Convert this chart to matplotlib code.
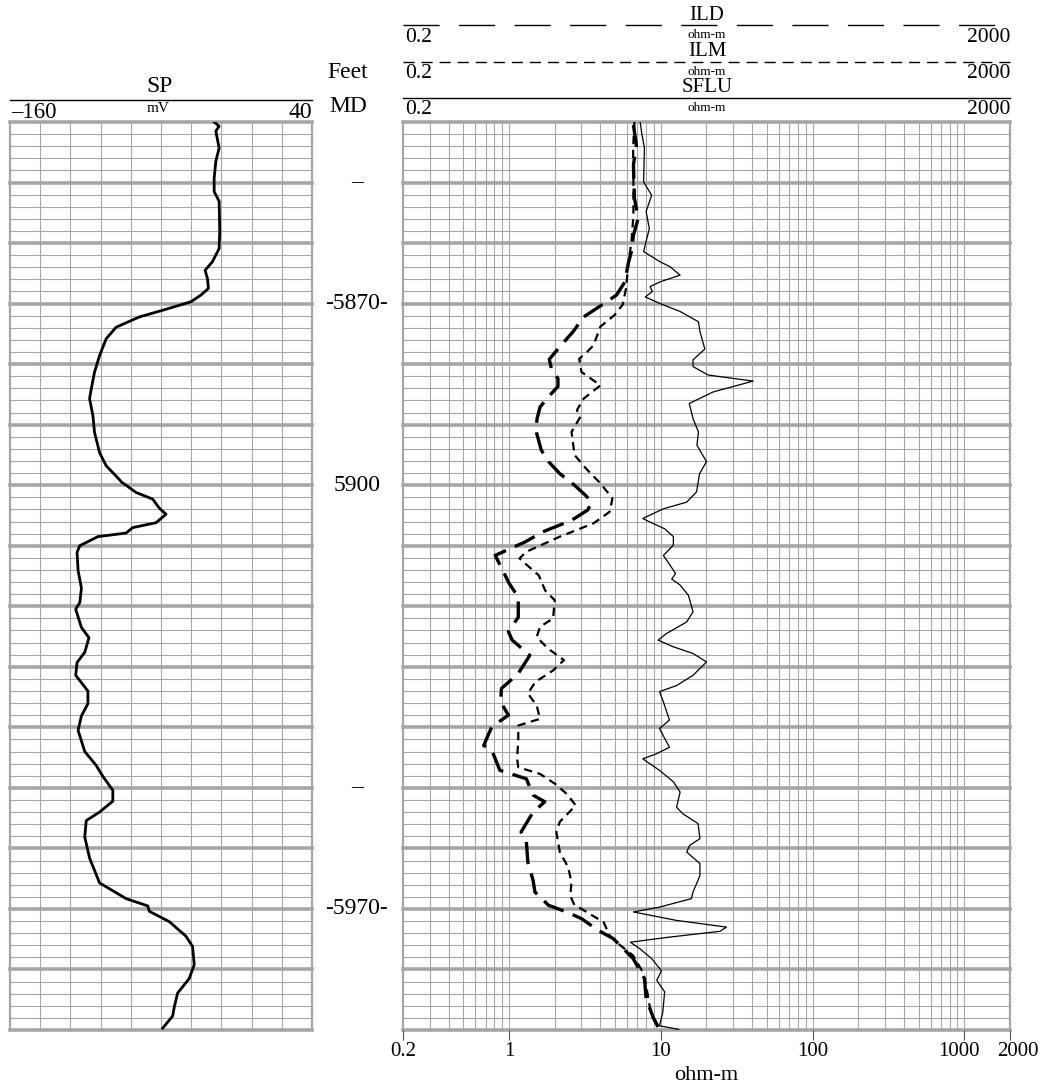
import matplotlib
matplotlib.use("Agg")
import matplotlib.pyplot as plt
from matplotlib.lines import Line2D
from matplotlib.ticker import NullLocator
from matplotlib.transforms import ScaledTranslation

plt.rcParams['font.family'] = ['Liberation Serif', 'DejaVu Serif']
plt.rcParams['lines.scale_dashes'] = False

W, H = 1040, 1089
TOP, BOT = 5840, 5990

# SP curve (depth in ft, mV)
sp_depth = [5840, 5840.7, 5841.5, 5844.3, 5846.5, 5849.3, 5851.5, 5853.1, 5858, 5860.9,
            5863.1, 5864.5, 5865.9, 5867.5, 5868.6, 5869.7, 5871.1, 5872.2, 5873.9, 5875.8,
            5878.6, 5881.3, 5884.1, 5885.7, 5888.5, 5891.3, 5894.6, 5896.8, 5898.5, 5899.5,
            5901.2, 5902.3, 5903.8, 5904.8, 5906.2, 5907, 5907.9, 5908.5, 5910, 5911.1,
            5914.1, 5917, 5919.4, 5920.5, 5923.5, 5925.2, 5927.6, 5929.3, 5931.4, 5934,
            5936.1, 5938.1, 5940.5, 5944, 5946.3, 5948.1, 5950.4, 5952.2, 5954, 5955.4,
            5958.1, 5961.6, 5965.7, 5968.3, 5969.5, 5970.4, 5972.1, 5974.5, 5976.2, 5979.2,
            5981.5, 5983.9, 5986.2, 5987.7, 5989.7]
sp_mv = [-24.8, -21.5, -23.7, -21.5, -23.7, -24.8, -24.8, -21.5, -21.1, -21.5,
         -26, -30.8, -29.2, -28.6, -33.6, -40.2, -58.9, -74.3, -89.7, -96.3,
         -100.7, -104, -106.2, -107.3, -105.1, -104, -100.7, -96.3, -89.7, -86,
         -76.5, -65.5, -61.1, -56.7, -63.3, -78.7, -83.1, -101.8, -113.8, -115.6,
         -114.9, -112.7, -113.8, -116.5, -112.7, -107.7, -110.5, -115.6, -116.5, -108.4,
         -108.4, -112.7, -114.9, -110.5, -102.9, -98.5, -91.9, -91.9, -100.7, -109.5,
         -110.5, -107.3, -100.7, -83.1, -68.8, -67.7, -54.5, -43.5, -39.1, -38,
         -41.3, -49, -51.2, -52.3, -58.9]

# SFLU (ohm-m)
sflu_depth = [5839.9, 5842, 5844.3, 5849.9, 5852.1, 5854.8, 5857.6, 5861.4, 5863.1, 5863.9,
              5865.3, 5866.4, 5867.2, 5868, 5868.9, 5870, 5871.3, 5873, 5874.6, 5877.5,
              5879.3, 5880.4, 5881.8, 5882.8, 5884.6, 5886.5, 5889, 5891.2, 5893.4, 5896.1,
              5898.1, 5901.1, 5902.8, 5903.9, 5905.5, 5906.1, 5907.2, 5908.5, 5909.9, 5911.6,
              5913.2, 5914.6, 5915.5, 5916.5, 5918.2, 5920.9, 5922.6, 5924.5, 5925.6, 5926.7,
              5927.8, 5929.2, 5931.4, 5933.1, 5934.1, 5935.8, 5938.8, 5940.2, 5943.3, 5944.4,
              5945.2, 5947.1, 5949, 5950.7, 5953.2, 5954.3, 5955.9, 5958.4, 5959.5, 5960.6,
              5962.5, 5964.5, 5967.2, 5968.3, 5969.7, 5970.5, 5971.9, 5973, 5973.7, 5974.7,
              5975.5, 5976.6, 5978.2, 5980.2, 5981.8, 5983.7, 5987.1, 5989.3, 5989.9]
sflu = [7.3, 7.5, 7.8, 7.7, 8.7, 8.0, 8.4, 7.7, 9.9, 11.5,
        13.4, 9.9, 8.5, 8.8, 7.9, 9.9, 13.4, 17.7, 18.1, 19.5,
        16.3, 16.3, 20.5, 40.6, 22.1, 15.4, 16.3, 17.7, 17.3, 20,
        18, 17.2, 14.8, 10.4, 7.6, 8.5, 10.6, 12.1, 12.1, 10.4,
        11.5, 12.5, 11.8, 13.4, 15.2, 16.3, 14.8, 10.9, 9.6, 12.1,
        16.3, 20, 16.3, 12.7, 9.8, 10.4, 11.4, 9.8, 11.4, 9.3,
        7.6, 9.8, 12.1, 13.4, 12.7, 14, 17.6, 18.1, 15.5, 14.8,
        18.1, 18.1, 16.3, 15.9, 9.8, 6.6, 12.7, 27.1, 24.5, 11,
        6.3, 7.3, 8.7, 10.1, 9.4, 10.6, 10.3, 9.8, 13.1]

# ILD (ohm-m)
ild_depth = [5840.5, 5843.8, 5847.1, 5852.6, 5855.9, 5858.7, 5861.4, 5863.4, 5866.4, 5868.6,
             5870.2, 5872.2, 5874.6, 5876.9, 5879.2, 5880.7, 5882.4, 5883.7, 5885.7, 5887.1,
             5889, 5890.9, 5894.2, 5896.1, 5898.1, 5900, 5901.7, 5902.8, 5904.1, 5905.8,
             5907.7, 5909.4, 5911.6, 5914.1, 5916.2, 5918.5, 5921.8, 5924.2, 5925.6, 5928.1,
             5931.1, 5933.6, 5935.8, 5938, 5939.9, 5943, 5943.8, 5947.1, 5948.5, 5951.2,
             5952.3, 5954, 5957.3, 5958.9, 5962.3, 5965.3, 5967.2, 5969.4, 5970.5, 5971.6,
             5973.6, 5974.9, 5978.2, 5981.5, 5984.8, 5987.9, 5989.5]
ild = [6.6, 6.9, 6.6, 6.7, 7.1, 6.6, 6.4, 6.1, 5.8, 5.1,
       4.1, 3.1, 2.65, 2.2, 1.84, 1.9, 2.1, 2.1, 1.77, 1.6,
       1.53, 1.5, 1.63, 1.82, 2.16, 2.7, 3.2, 3.5, 3.3, 2.58,
       1.67, 1.27, 0.81, 0.91, 1.0, 1.15, 1.15, 0.99, 1.05, 1.37,
       1.15, 0.89, 0.88, 0.99, 0.77, 0.68, 0.77, 0.87, 1.30, 1.44,
       1.72, 1.44, 1.2, 1.30, 1.33, 1.44, 1.48, 1.82, 2.39, 3.0,
       3.9, 4.86, 6.57, 7.8, 8.0, 8.9, 9.6]

# ILM (ohm-m)
ilm_depth = [5840, 5844.3, 5849.9, 5855.4, 5859.8, 5863.6, 5867.5, 5870.2, 5871.9, 5873.8,
             5876.9, 5878.2, 5879.1, 5881.3, 5883.5, 5885.7, 5887.6, 5888.7, 5891.2, 5895,
             5897.2, 5899.7, 5902.2, 5904.4, 5906.3, 5908.5, 5911, 5912.1, 5914.9, 5917.4,
             5919, 5922, 5923.4, 5925.1, 5927, 5928.9, 5930.6, 5932.5, 5934.4, 5936.4,
             5938.6, 5939.7, 5941.9, 5945.2, 5946.6, 5947.7, 5949.3, 5951, 5952.9, 5955.6,
             5957.3, 5960.6, 5963.1, 5965.6, 5967.8, 5969.4, 5970, 5972.2, 5974.4, 5975.5,
             5977.7, 5980.4, 5982.6, 5986.5, 5988.1, 5989.5]
ilm = [6.7, 6.57, 6.6, 6.6, 6.4, 6.1, 5.9, 5.6, 4.95, 4.0,
       3.6, 3.2, 2.9, 3.0, 4.0, 3.1, 2.8, 2.95, 2.58, 2.7,
       3.2, 4.0, 4.8, 4.6, 3.6, 2.16, 1.3, 1.17, 1.57, 1.73,
       2.0, 1.95, 1.6, 1.52, 1.81, 2.3, 1.95, 1.49, 1.33, 1.52,
       1.6, 1.15, 1.15, 1.13, 1.15, 1.6, 2.0, 2.4, 2.75, 2.16,
       2.05, 2.16, 2.45, 2.58, 2.53, 2.7, 3.0, 4.2, 4.6, 5.1,
       6.57, 7.6, 8.0, 8.5, 8.9, 9.6]

res_ticks = [0.2, 1, 10, 100, 1000, 2000]
res_tick_labels = ['0.2', '1', '10', '100', '1000', '2000']
res_grid = ([round(0.1 * i, 1) for i in range(2, 10)] + list(range(1, 10)) +
            list(range(10, 100, 10)) + list(range(100, 1000, 100)) + [1000, 2000])
sp_grid = list(range(-160, 41, 20))

depth_labels = [(5850, '\u2013'), (5870, '-5870-'), (5900, '5900'),
                (5950, '\u2013'), (5970, '-5970-')]

GRID = '#a6a6a6'

fig = plt.figure(figsize=(W / 100, H / 100), dpi=100)


def fx(px):
    return px / W


def fy(py):
    return 1 - py / H


def track(x0, x1):
    return fig.add_axes([fx(x0), fy(1030), fx(x1) - fx(x0), (1030 - 122) / H])


ax_sp = track(10, 312)
ax_res = track(403, 1010)

for ax in (ax_sp, ax_res):
    ax.set_ylim(BOT, TOP)
    for s in ax.spines.values():
        s.set_visible(False)
    for d in range(TOP, BOT + 1, 2):
        ax.axhline(d, color=GRID, lw=2.6 if d % 10 == 0 else 0.8, zorder=1, clip_on=False)
    ax.tick_params(left=False, labelleft=False)

ax_sp.set_xlim(-160, 40)
for v in sp_grid:
    edge = v in (-160, 40)
    ax_sp.axvline(v, color=GRID, lw=1.6 if edge else 0.8, zorder=1, clip_on=False)
ax_sp.tick_params(bottom=False, labelbottom=False)

ax_res.set_xscale('log')
ax_res.set_xlim(0.2, 2000)
for v in res_grid:
    edge = v in (0.2, 2000)
    ax_res.axvline(v, color=GRID, lw=1.6 if edge else 0.8, zorder=1, clip_on=False)
ax_res.set_xticks(res_ticks)
ax_res.set_xticklabels(res_tick_labels, fontsize=15)
ax_res.xaxis.set_minor_locator(NullLocator())
ax_res.tick_params(axis='x', direction='out', length=7, width=0.8, color='#555555', pad=2)
ax_res.set_xlabel('ohm-m', fontsize=16, labelpad=3)
# nudge the two crowded labels apart, as in the original log
labels = ax_res.get_xticklabels()
labels[-2].set_transform(labels[-2].get_transform() + ScaledTranslation(-5 / 100, 0, fig.dpi_scale_trans))
labels[-1].set_transform(labels[-1].get_transform() + ScaledTranslation(8 / 100, 0, fig.dpi_scale_trans))

# curves
ax_sp.plot(sp_mv, sp_depth, color='k', lw=2.0, zorder=3)
ax_res.plot(sflu, sflu_depth, color='k', lw=0.9, zorder=3)
ax_res.plot(ild, ild_depth, color='k', lw=2.4, dashes=(16, 7), zorder=3)
ax_res.plot(ilm, ilm_depth, color='k', lw=1.6, dashes=(6, 4), zorder=3)

# depth column
for d, lab in depth_labels:
    y = 122 + (d - TOP) * (1030 - 122) / (BOT - TOP)
    fig.text(fx(357), fy(y), lab, ha='center', va='center', fontsize=17)
fig.text(fx(348), fy(72), 'Feet', ha='center', va='center', fontsize=17)
fig.text(fx(348), fy(107), 'MD', ha='center', va='center', fontsize=17)

# SP header
fig.text(fx(160), fy(87), 'SP', ha='center', va='center', fontsize=17)
fig.add_artist(Line2D([fx(10), fx(312)], [fy(100), fy(100)], color='k', lw=1.0))
fig.text(fx(11), fy(112), '\u2013160', ha='left', va='center', fontsize=16.5)
fig.text(fx(158), fy(109), 'mV', ha='center', va='center', fontsize=11)
fig.text(fx(312), fy(112), '40', ha='right', va='center', fontsize=17)

# resistivity headers
headers = [('ILD', 25, (26, 14)), ('ILM', 62, (8, 5)), ('SFLU', 98, None)]
for name, ly, dash in headers:
    fig.text(fx(707), fy(ly - 10), name, ha='center', va='center', fontsize=15)
    kw = dict(color='k', lw=1.0)
    if dash:
        kw['dashes'] = dash
    fig.add_artist(Line2D([fx(403), fx(1010)], [fy(ly), fy(ly)], **kw))
    fig.text(fx(405), fy(ly + 12), '0.2', ha='left', va='center', fontsize=15.5)
    fig.text(fx(707), fy(ly + 10), 'ohm-m', ha='center', va='center', fontsize=9.5)
    fig.text(fx(1010), fy(ly + 12), '2000', ha='right', va='center', fontsize=15.5)

fig.savefig('out.png', dpi=100)
